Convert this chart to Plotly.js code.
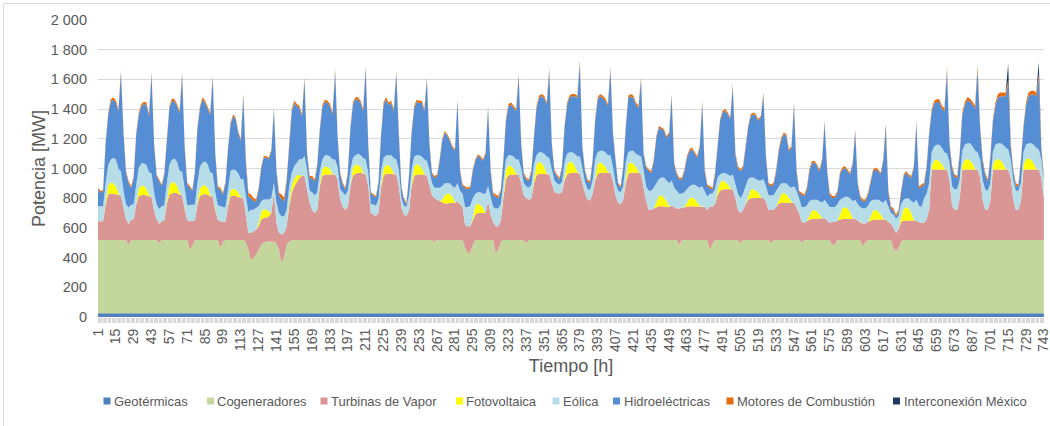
<!DOCTYPE html>
<html>
<head>
<meta charset="utf-8">
<script src="https://cdn.plot.ly/plotly-3.0.1.min.js"></script>
<style>
  html, body { margin: 0; padding: 0; background: #ffffff; }
  body { width: 1050px; height: 426px; overflow: hidden; position: relative; }
  #chart { position: absolute; left: 0; top: 0; width: 1050px; height: 426px; }
  #frame { position: absolute; left: 3px; top: 3px; width: 1200px; height: 600px;
           border-top: 1px solid #d9d9d9; border-left: 1px solid #d9d9d9; pointer-events: none; }
</style>
</head>
<body>
<div id="chart"></div>
<div id="frame"></div>
<script>
// Sample hours (every 2 h) over the month: 1, 3, ..., 743
const hours = [];
for (let h = 1; h <= 743; h += 2) hours.push(h);

// Series names (legend order, bottom to top of the stack)
const seriesNames = ["Geotérmicas", "Cogeneradores", "Turbinas de Vapor", "Fotovoltaica",
                     "Eólica", "Hidroeléctricas", "Motores de Combustión", "Interconexión México"];

// Y tick labels
const yTickValues = [0, 200, 400, 600, 800, 1000, 1200, 1400, 1600, 1800, 2000];
const yTickLabels = ["0", "200", "400", "600", "800", "1 000", "1 200", "1 400", "1 600", "1 800", "2 000"];

// ---- Values in MW, one line per day (12 samples per day) ----
const geotermicas = [
25,25,25,25,25,25,25,25,25,25,25,25, 25,25,25,25,25,25,25,25,25,25,25,25,
25,25,25,25,25,25,25,25,25,25,25,25, 25,25,25,25,25,25,25,25,25,25,25,25,
25,25,25,25,25,25,25,25,25,25,25,25, 25,25,25,25,25,25,25,25,25,25,25,25,
25,25,25,25,25,25,25,25,25,25,25,25, 25,25,25,25,25,25,25,25,25,25,25,25,
25,25,25,25,25,25,25,25,25,25,25,25, 25,25,25,25,25,25,25,25,25,25,25,25,
25,25,25,25,25,25,25,25,25,25,25,25, 25,25,25,25,25,25,25,25,25,25,25,25,
25,25,25,25,25,25,25,25,25,25,25,25, 25,25,25,25,25,25,25,25,25,25,25,25,
25,25,25,25,25,25,25,25,25,25,25,25, 25,25,25,25,25,25,25,25,25,25,25,25,
25,25,25,25,25,25,25,25,25,25,25,25, 25,25,25,25,25,25,25,25,25,25,25,25,
25,25,25,25,25,25,25,25,25,25,25,25, 25,25,25,25,25,25,25,25,25,25,25,25,
25,25,25,25,25,25,25,25,25,25,25,25, 25,25,25,25,25,25,25,25,25,25,25,25,
25,25,25,25,25,25,25,25,25,25,25,25, 25,25,25,25,25,25,25,25,25,25,25,25,
25,25,25,25,25,25,25,25,25,25,25,25, 25,25,25,25,25,25,25,25,25,25,25,25,
25,25,25,25,25,25,25,25,25,25,25,25, 25,25,25,25,25,25,25,25,25,25,25,25,
25,25,25,25,25,25,25,25,25,25,25,25, 25,25,25,25,25,25,25,25,25,25,25,25,
25,25,25,25,25,25,25,25,25,25,25,25
];

const cogeneradores = [
493,493,493,493,493,493,493,493,493,493,493,493,
462,493,493,493,493,493,493,493,493,493,493,493,
473,493,493,493,493,493,493,493,493,493,493,493,
428,455,493,493,493,493,493,493,493,493,493,493,
439,480,493,493,493,493,493,493,493,493,480,430,
360,372,394,428,462,478,484,484,484,484,470,430,
338,383,462,484,493,493,493,493,493,493,493,493,
493,493,493,493,493,493,493,493,493,493,493,493,
493,493,493,493,493,493,493,493,493,493,493,493,
493,493,493,493,493,493,493,493,493,493,493,493,
493,493,493,493,493,493,493,493,493,493,493,493,
484,493,493,493,493,493,493,493,493,493,493,493,
440,406,410,460,493,493,493,493,493,493,493,493,
406,428,484,493,493,493,493,493,493,493,493,493,
473,493,493,493,493,493,493,493,493,493,493,493,
493,493,493,493,493,493,493,493,493,493,493,493,
493,493,493,493,493,493,493,493,493,493,493,493,
493,493,493,493,493,493,493,493,493,493,493,493,
493,493,493,493,493,493,493,493,493,493,493,493,
462,493,493,493,493,493,493,493,493,493,493,493,
428,470,493,493,493,493,493,493,493,493,493,493,
473,493,493,493,493,493,493,493,493,493,493,493,
473,493,493,493,493,493,493,493,493,493,493,493,
478,493,493,493,493,493,493,493,493,493,493,493,
462,462,493,493,493,493,493,493,493,493,493,493,
451,480,493,493,493,493,493,493,493,493,493,493,
439,417,439,484,493,493,493,493,493,493,493,493,
493,493,493,493,493,493,493,493,493,493,493,493,
493,493,493,493,493,493,493,493,493,493,493,493,
493,493,493,493,493,493,493,493,493,493,493,493,
493,493,493,493,493,493,493,493,493,493,493,493
];

const turbinasVapor = [
127,127,127,242,307,312,312,312,307,297,212,142,
140,138,140,240,296,300,305,300,296,290,200,140,
130,127,135,245,307,315,320,315,307,300,210,135,
192,165,130,240,296,305,310,305,296,290,200,135,
181,135,120,230,296,296,296,290,285,280,180,111,
181,180,169,158,169,164,158,169,192,327,138,111,
192,158,124,237,318,363,397,420,431,431,341,251,
202,182,202,362,432,442,442,442,442,442,408,273,
222,205,222,362,437,447,453,453,447,442,362,182,
172,162,182,352,432,447,447,447,442,442,362,222,
172,162,202,362,432,442,442,442,442,432,362,302,
291,272,262,252,247,247,252,252,252,262,242,222,
155,180,176,165,172,182,182,182,182,262,172,122,
180,158,141,282,412,437,442,442,442,442,382,302,
302,272,282,382,437,447,447,447,442,442,382,322,
318,312,322,402,442,452,453,453,452,447,382,318,
272,267,312,402,447,453,453,453,453,453,392,302,
251,242,272,382,447,453,453,453,453,447,362,262,
205,205,212,222,227,227,227,222,222,232,222,212,
243,217,222,227,227,227,227,227,227,227,222,202,
292,245,242,302,332,342,342,342,342,342,282,202,
202,202,242,272,282,284,284,284,284,284,262,202,
222,202,222,247,252,252,252,252,252,252,222,182,
137,117,127,138,142,142,142,142,142,147,132,117,
153,153,132,138,142,142,142,142,142,142,132,117,
154,125,122,132,138,138,138,138,138,138,122,112,
136,124,126,131,132,132,132,132,132,132,122,115,
115,138,202,476,476,476,476,476,476,476,402,232,
205,205,282,476,476,476,476,476,476,476,422,272,
205,205,262,476,476,476,476,476,476,476,422,272,
205,205,262,476,476,476,476,476,476,476,422,282
];

const fotovoltaica = [
0,0,0,15,55,75,70,50,10,0,0,0,
0,0,0,15,50,65,60,45,10,0,0,0,
0,0,0,15,60,75,70,50,10,0,0,0,
0,0,0,15,50,65,60,45,10,0,0,0,
0,0,0,10,40,50,45,30,5,0,0,0,
0,0,0,20,50,60,55,30,0,0,0,0,
0,0,0,20,50,50,40,20,0,0,0,0,
0,0,0,15,45,55,50,35,5,0,0,0,
0,0,0,15,50,60,55,40,5,0,0,0,
0,0,0,15,50,60,55,40,5,0,0,0,
0,0,0,15,60,70,60,40,5,0,0,0,
0,0,0,20,55,65,60,40,5,0,0,0,
0,0,0,15,60,65,55,35,0,0,0,0,
0,0,0,20,60,65,55,40,5,0,0,0,
0,0,0,25,70,80,70,45,5,0,0,0,
0,0,0,25,65,75,70,45,5,0,0,0,
0,0,0,25,65,70,60,40,5,0,0,0,
0,0,0,25,65,70,60,40,5,0,0,0,
0,0,0,30,70,75,60,40,5,0,0,0,
0,0,0,25,55,60,50,30,0,0,0,0,
0,0,0,25,55,60,50,35,5,0,0,0,
0,0,0,25,55,60,50,35,5,0,0,0,
0,0,0,25,60,65,55,35,5,0,0,0,
0,0,0,25,55,60,50,30,5,0,0,0,
0,0,0,30,70,80,70,45,5,0,0,0,
0,0,0,25,60,65,55,35,5,0,0,0,
0,0,0,30,75,90,80,50,5,0,0,0,
0,0,0,25,60,65,55,35,5,0,0,0,
0,0,0,30,65,70,60,40,5,0,0,0,
0,0,0,30,65,70,60,40,5,0,0,0,
0,0,0,30,70,75,65,40,5,0,0,0
];

const eolica = [
100,100,100,125,140,155,170,180,165,165,120,100,
110,100,100,120,140,150,150,160,150,160,120,100,
100,100,100,120,140,150,160,160,150,160,120,100,
110,110,110,130,150,150,160,160,150,160,120,100,
100,100,100,120,130,130,130,130,120,130,120,140,
157,146,147,115,74,64,69,83,101,68,136,135,
123,112,112,115,85,86,84,104,113,135,135,81,
120,120,120,85,65,75,80,85,95,100,84,69,
100,97,110,95,65,65,74,79,100,100,90,60,
70,70,90,95,70,65,70,85,105,100,110,60,
60,60,100,95,70,60,70,80,95,100,110,80,
70,80,90,90,80,70,70,70,95,120,90,90,
120,129,139,135,80,75,85,95,130,100,110,100,
119,119,110,100,70,70,75,80,95,100,100,80,
80,80,90,105,65,65,75,90,115,110,100,80,
64,60,70,95,75,65,69,84,105,115,100,74,
70,70,90,115,80,79,89,99,114,119,100,80,
81,80,90,115,80,79,89,89,114,115,110,100,
127,127,140,130,115,120,135,140,155,170,130,120,
100,95,100,90,80,85,95,105,125,135,100,90,
85,90,100,95,55,50,60,65,85,100,100,110,
100,110,120,115,85,78,78,83,113,128,100,100,
100,100,110,90,70,65,75,75,95,110,110,100,
100,105,105,99,75,70,80,90,105,125,110,105,
100,100,110,104,70,70,80,95,115,130,110,105,
100,100,110,105,74,69,79,89,109,134,110,70,
90,94,90,90,65,60,70,80,115,140,110,107,
167,174,180,91,96,101,111,111,111,106,120,130,
137,137,130,96,101,106,116,116,121,116,120,130,
137,127,120,86,101,106,116,126,141,136,120,130,
127,127,120,86,96,101,111,126,141,136,120,120
];

const hidroelectricas = [
115,93,100,270,338,392,393,385,385,664,388,213,
166,114,182,337,361,385,401,407,377,665,324,190,
186,138,207,322,383,399,384,376,388,655,292,139,
114,94,212,367,394,426,393,379,388,642,257,116,
113,86,162,252,314,360,342,273,257,558,237,105,
79,59,41,112,220,283,283,272,315,495,210,115,
117,102,192,277,414,424,380,345,289,515,101,84,
94,91,178,278,355,358,351,339,302,595,197,99,
52,38,118,278,360,374,364,351,315,613,192,70,
55,54,110,238,360,374,340,351,315,584,240,71,
40,19,130,248,325,358,351,361,325,549,172,61,
67,78,182,307,343,321,287,262,249,555,132,51,
129,118,119,182,222,245,234,222,267,530,179,81,
80,69,87,130,257,329,340,327,325,562,162,59,
46,44,92,177,317,365,376,375,350,590,162,62,
48,36,95,235,330,369,376,386,395,632,140,72,
54,48,130,260,354,366,355,347,329,576,220,150,
42,29,125,235,365,366,355,330,317,519,105,125,
132,121,180,307,345,324,312,287,328,566,157,109,
96,96,142,212,237,239,205,192,270,561,142,71,
39,28,99,200,360,407,418,405,381,594,192,172,
182,175,260,345,414,425,424,400,423,567,192,72,
61,72,132,237,296,330,319,237,270,550,132,36,
84,73,108,202,248,248,226,202,280,516,222,84,
62,62,76,169,194,195,172,159,247,459,132,62,
49,49,74,134,192,204,192,179,280,455,94,31,
25,15,25,78,158,171,148,158,235,516,116,138,
89,172,327,275,286,287,287,262,275,561,119,122,
85,74,162,242,269,289,282,279,282,558,207,127,
96,61,169,207,265,306,317,327,347,439,94,59,
35,28,147,162,265,317,329,339,347,480,70,15
];

const motoresCombustion = [
10,10,10,10,12,15,15,15,15,15,12,12,
12,10,10,10,12,15,15,15,15,15,12,12,
12,10,10,10,12,15,15,15,15,15,12,12,
12,10,10,10,12,15,15,15,15,15,12,12,
12,10,10,10,12,12,12,12,12,15,20,25,
23,20,15,12,10,10,10,10,12,12,15,20,
30,25,15,12,15,15,15,15,15,15,12,15,
15,15,12,12,15,15,15,15,15,15,12,12,
12,12,12,12,15,15,15,15,15,15,12,10,
10,10,10,12,15,15,15,15,15,15,12,10,
10,10,10,12,15,15,15,15,15,15,12,10,
12,12,10,10,10,10,10,10,10,12,12,12,
12,12,12,12,10,10,10,10,10,12,15,15,
15,15,12,12,15,15,15,15,15,15,12,12,
12,12,12,12,15,15,15,15,15,15,12,12,
12,12,12,12,15,15,15,15,15,15,12,12,
12,12,12,12,15,15,15,15,15,15,12,12,
12,12,12,12,15,15,15,15,15,15,12,12,
12,12,12,12,12,12,12,12,12,15,12,12,
12,12,12,12,12,12,12,12,12,15,12,12,
12,12,12,12,12,12,12,12,12,15,15,15,
12,12,12,12,12,12,12,12,12,15,12,12,
12,12,12,12,12,12,12,12,12,15,12,12,
12,12,12,12,12,12,12,12,12,15,12,12,
12,12,12,12,12,12,12,12,12,15,12,12,
12,12,12,12,12,12,12,12,12,15,15,15,
15,15,15,12,12,12,12,12,12,15,15,15,
15,15,15,15,20,20,20,20,20,20,15,15,
15,15,15,15,20,20,20,20,20,25,20,15,
15,15,15,15,20,25,25,25,25,25,20,15,
15,15,15,15,20,25,25,25,25,25,20,15
];

const interconexionMexico = [
0,0,0,0,0,0,0,0,0,0,0,0, 0,0,0,0,0,0,0,0,0,0,0,0,
0,0,0,0,0,0,0,0,0,0,0,0, 0,0,0,0,0,0,0,0,0,0,0,0,
0,0,0,0,0,0,0,0,0,0,0,0, 0,0,0,0,0,0,0,0,0,0,0,0,
0,0,0,0,0,0,0,0,0,0,0,0, 0,0,0,0,0,0,0,0,0,0,0,0,
0,0,0,0,0,0,0,0,0,0,0,0, 0,0,0,0,0,0,0,0,0,0,0,0,
0,0,0,0,0,0,0,0,0,0,0,0, 0,0,0,0,0,0,0,0,0,0,0,0,
0,0,0,0,0,0,0,0,0,0,0,0, 0,0,0,0,0,0,0,0,0,0,0,0,
0,0,0,0,0,0,0,0,0,0,0,0, 0,0,0,0,0,0,0,0,0,0,0,0,
0,0,0,0,0,0,0,0,0,0,0,0, 0,0,0,0,0,0,0,0,0,0,0,0,
0,0,0,0,0,0,0,0,0,0,0,0, 0,0,0,0,0,0,0,0,0,0,0,0,
0,0,0,0,0,0,0,0,0,0,0,0, 0,0,0,0,0,0,0,0,0,0,0,0,
0,0,0,0,0,0,0,0,0,0,0,0, 0,0,0,0,0,0,0,0,0,0,0,0,
0,0,0,0,0,0,0,0,0,0,0,0, 0,0,0,0,0,0,0,0,0,30,0,0,
0,0,0,0,0,0,0,0,0,0,0,0, 0,0,0,0,0,0,0,0,0,0,0,0,
0,0,0,0,0,0,0,0,0,0,0,0, 0,0,0,0,0,0,0,0,0,110,0,0,
0,0,0,0,0,0,0,0,0,80,0,0
];

const seriesValues = [geotermicas, cogeneradores, turbinasVapor, fotovoltaica,
                      eolica, hidroelectricas, motoresCombustion, interconexionMexico];
const seriesColors = ["#4F81BD", "#C3D69B", "#D99694", "#FFFF00",
                      "#B7DEE8", "#558ED5", "#E46C0A", "#1F3864"];

const traces = seriesNames.map((name, i) => ({
  type: "scatter",
  mode: "lines",
  name: name,
  x: hours,
  y: seriesValues[i],
  stackgroup: "gen",
  line: { width: 0, shape: "linear" },
  fillcolor: seriesColors[i],
  showlegend: false,
  hoverinfo: "skip"
}));

// Layout geometry (pixels)
const W = 1050, H = 426;
const M = { l: 98, r: 6, t: 20, b: 109 };
const plotW = W - M.l - M.r, plotH = H - M.t - M.b;
const px2x = (px) => (px - M.l) / plotW;
const py2y = (py) => (H - M.b - py) / plotH;

// Legend drawn with shapes + text (Excel-style small squares)
const legendSquareX = [103.5, 207, 320.5, 456, 552.5, 613, 726.5, 893];
const legendTextX   = [113, 215.5, 330, 465, 562, 622.5, 735.5, 902.5];
const legendY = 401;
const shapes = seriesNames.map((n, i) => ({
  type: "rect", xref: "paper", yref: "paper",
  x0: px2x(legendSquareX[i]), x1: px2x(legendSquareX[i] + 7),
  y0: py2y(legendY + 3.5), y1: py2y(legendY - 3.5),
  fillcolor: seriesColors[i], line: { width: 0 }
}));
const annotations = seriesNames.map((n, i) => ({
  text: n, xref: "paper", yref: "paper",
  x: px2x(legendTextX[i]), y: py2y(legendY),
  xanchor: "left", yanchor: "middle", showarrow: false, borderpad: 0,
  font: { family: "Liberation Sans, Arial, sans-serif", size: 13, color: "#595959" }
}));

const layout = {
  width: W, height: H,
  margin: M,
  paper_bgcolor: "#ffffff",
  plot_bgcolor: "#ffffff",
  showlegend: false,
  font: { family: "Liberation Sans, Arial, sans-serif", color: "#595959", size: 14 },
  xaxis: {
    range: [1, 743.1],
    tickmode: "linear", tick0: 1, dtick: 14,
    tickangle: -90,
    ticklabeloverflow: "allow",
    ticks: "outside", ticklen: 5, tickcolor: "#d9d9d9", tickwidth: 1,
    minor: { tickmode: "linear", tick0: 1, dtick: 1, ticks: "outside", ticklen: 5, tickcolor: "#d9d9d9", tickwidth: 1, showgrid: false },
    tickfont: { size: 14, color: "#595959" },
    showgrid: false, zeroline: false, showline: false,
    title: { text: "Tiempo [h]", font: { size: 18, color: "#595959" }, standoff: 8 },
    automargin: false,
    fixedrange: true
  },
  yaxis: {
    range: [0, 2000],
    tickmode: "array", tickvals: yTickValues, ticktext: yTickLabels,
    tickfont: { size: 14.5, color: "#595959" },
    ticks: "", ticklabelstandoff: 10,
    showgrid: true, gridcolor: "#d9d9d9", gridwidth: 1,
    zeroline: false, showline: false,
    title: { text: "Potencia [MW]", font: { size: 18, color: "#595959" } },
    automargin: false,
    fixedrange: true
  },
  shapes: shapes,
  annotations: annotations
};

Plotly.newPlot("chart", traces, layout, { staticPlot: true, displayModeBar: false });
</script>
</body>
</html>
